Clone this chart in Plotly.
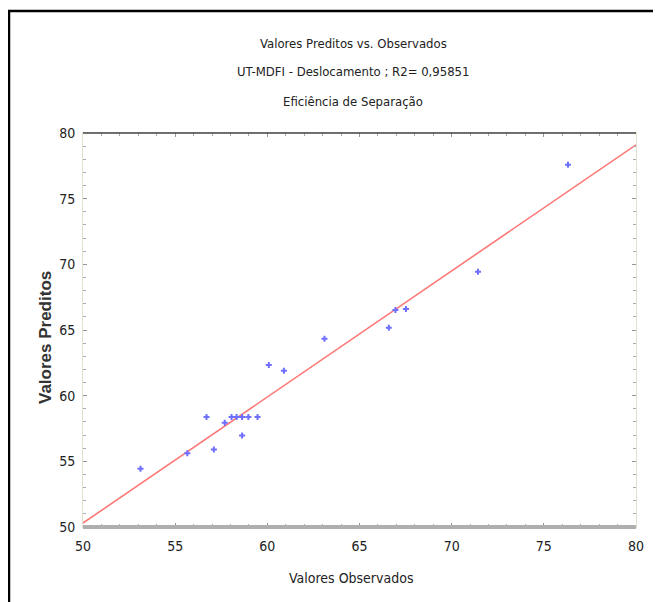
import plotly.graph_objects as go

# Data
observados = [53.12, 55.66, 56.70, 57.10, 57.69, 58.06, 58.33, 58.63, 58.97,
              58.63, 59.47, 60.08, 60.90, 63.10, 66.59, 66.95, 67.52, 71.43, 76.31]
preditos = [54.43, 55.62, 58.37, 55.91, 57.94, 58.37, 58.37, 58.37, 58.37,
            56.97, 58.37, 62.33, 61.90, 64.33, 65.17, 66.52, 66.60, 69.44, 77.59]
fit_x = [50, 80]
fit_y = [50.3, 79.1]

x_ticks = [50, 55, 60, 65, 70, 75, 80]
y_ticks = [50, 55, 60, 65, 70, 75, 80]

title_lines = ["Valores Preditos vs. Observados",
               "UT-MDFI - Deslocamento ; R2= 0,95851",
               "Eficiência de Separação"]

NARROW = "Liberation Sans Narrow, DejaVu Sans Condensed, Arial Narrow, sans-serif"

# page has an 8px body margin, so the figure is offset by 8px
OFF = 8
W, H = 661 - OFF, 602 - OFF
L, R, T, B = 83 - OFF, 636 - OFF, 133 - OFF, 527 - OFF


def px(xp):
    return (xp - OFF - L) / (R - L)


def py(yp):
    return (B - (yp - OFF)) / (B - T)


fig = go.Figure()
fig.add_trace(go.Scatter(x=fit_x, y=fit_y, mode="lines",
                         line=dict(color="rgb(255,120,120)", width=1.6),
                         showlegend=False, hoverinfo="skip"))
fig.add_trace(go.Scatter(x=observados, y=preditos, mode="markers",
                         marker=dict(symbol="cross", size=5,
                                     color="rgb(110,110,255)",
                                     line=dict(width=0)),
                         showlegend=False))

axis_common = dict(
    showgrid=False, zeroline=False,
    showline=True, linecolor="rgb(225,225,205)", linewidth=1,
    mirror="ticks", ticks="inside", ticklen=4, tickcolor="rgb(150,150,150)",
    tickwidth=1,
    minor=dict(dtick=1, ticks="inside", ticklen=3, tickcolor="rgb(170,170,170)"),
    tickfont=dict(family=NARROW, size=14, color="#222"),
)

fig.update_xaxes(range=[50, 80], tickvals=x_ticks,
                 ticktext=[str(v) for v in x_ticks],
                 ticklabelstandoff=6, **axis_common)
fig.update_yaxes(range=[50, 80], tickvals=y_ticks,
                 ticktext=[str(v) for v in y_ticks],
                 ticklabelstandoff=4, **axis_common)

shapes = [
    # outer frame (left and top)
    dict(type="line", xref="paper", yref="paper", x0=px(9), x1=px(9),
         y0=py(11), y1=py(602), line=dict(color="black", width=2.5)),
    dict(type="line", xref="paper", yref="paper", x0=px(8), x1=px(661),
         y0=py(11), y1=py(11), line=dict(color="black", width=2.5)),
    # plot top border (dark)
    dict(type="line", xref="paper", yref="paper", x0=0, x1=1, y0=1, y1=1,
         line=dict(color="rgb(70,70,70)", width=1.5)),
    # plot bottom border (gray, thick)
    dict(type="line", xref="paper", yref="paper", x0=0, x1=1, y0=0, y1=0,
         line=dict(color="rgb(175,175,175)", width=4)),
]

annotations = []
for txt, yp in zip(title_lines, [43, 72, 101]):
    annotations.append(dict(text=txt, xref="paper", yref="paper",
                            x=px(353), y=py(yp), xanchor="center",
                            yanchor="middle", showarrow=False,
                            font=dict(family=NARROW, size=13, color="#222")))
annotations.append(dict(text="Valores Observados", xref="paper", yref="paper",
                        x=px(351), y=py(578), xanchor="center",
                        yanchor="middle", showarrow=False,
                        font=dict(family=NARROW, size=14, color="#222")))
annotations.append(dict(text="<b>Valores Preditos</b>", xref="paper",
                        yref="paper", x=px(45), y=py(338), xanchor="center",
                        yanchor="middle", textangle=-90, showarrow=False,
                        font=dict(family="Liberation Sans, Arial, sans-serif",
                                  size=17, color="#333")))

fig.update_layout(
    width=W, height=H,
    margin=dict(l=L, r=W - R, t=T, b=H - B),
    paper_bgcolor="white", plot_bgcolor="white",
    shapes=shapes, annotations=annotations,
)

fig.write_html("out.html")
